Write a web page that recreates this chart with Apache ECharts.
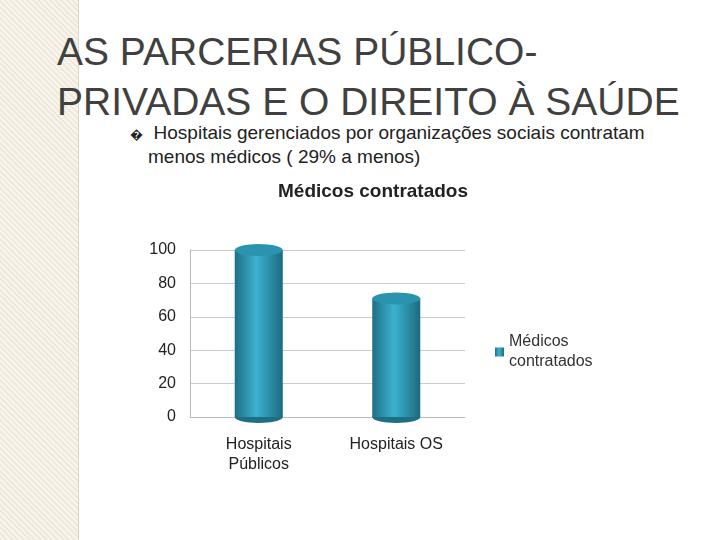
<!DOCTYPE html>
<html><head><meta charset="utf-8">
<script src="https://cdn.jsdelivr.net/npm/echarts@6/dist/echarts.min.js"></script>
<style>
body{margin:0;width:720px;height:540px;background:#fff;position:relative;overflow:hidden;font-family:"Liberation Sans",Arial,sans-serif}
.strip{position:absolute;left:0;top:0;width:78px;height:540px;background:repeating-linear-gradient(45deg,#efe9dc 0 2px,#f8f5ee 2px 4px);border-right:1px solid #ddd6c6}
.h{position:absolute;left:57px;top:27px;font-size:39px;line-height:50px;color:#404040;white-space:nowrap}
.b{position:absolute;left:130px;top:122px;font-size:19px;line-height:22px;color:#222;white-space:nowrap}
#c{position:absolute;left:0;top:0;width:720px;height:540px}
</style></head><body>
<div class="strip"></div>
<div class="h">AS PARCERIAS PÚBLICO-<br>PRIVADAS E O DIREITO À SAÚDE</div>
<div class="b"><span style="font-size:13px">&#xFFFD;</span>&nbsp; Hospitais gerenciados por organizações sociais contratam<br><span style="padding-left:18px">menos médicos ( 29% a menos)</span></div>
<div id="c"></div>
<script>
var categories = ['Hospitais\nPúblicos', 'Hospitais OS'];
var medicos = [100, 71];
var yTicks = [0, 20, 40, 60, 80, 100];

var chart = echarts.init(document.getElementById('c'));
var grad = new echarts.graphic.LinearGradient(0, 0, 1, 0, [
    {offset: 0, color: '#1d6f86'}, {offset: 0.45, color: '#3cb2cf'}, {offset: 1, color: '#1b6a80'}
]);
chart.setOption({
    title: {text: 'Médicos contratados', left: 368, top: 177, textAlign: 'center',
        textStyle: {fontSize: 19, fontWeight: 'bold', color: '#222', fontFamily: 'Liberation Sans'}},
    legend: {data: ['Médicos\ncontratados'], orient: 'vertical', left: 490, top: 327, itemWidth: 9, itemHeight: 9,
        icon: 'rect', textStyle: {fontSize: 16, color: '#333', lineHeight: 20, fontFamily: 'Liberation Sans'}},
    grid: {left: 190, width: 275, top: 250, bottom: 123},
    xAxis: {type: 'category', data: categories, axisTick: {show: false},
        axisLine: {lineStyle: {color: '#bbb'}},
        axisLabel: {fontSize: 16, color: '#222', margin: 18, lineHeight: 20}},
    yAxis: {type: 'value', min: 0, max: 100, interval: 20,
        axisLine: {show: true, lineStyle: {color: '#bbb'}},
        splitLine: {lineStyle: {color: '#ccc'}},
        axisLabel: {fontSize: 16, color: '#222', margin: 14}},
    series: [
        {name: 'Médicos\ncontratados', type: 'bar', data: medicos, barWidth: 48, z: 2,
            itemStyle: {color: grad}},
        {name: 'top', type: 'pictorialBar', data: medicos, symbol: 'circle', symbolSize: [48, 12],
            symbolPosition: 'end', symbolOffset: [0, -6], z: 3,
            itemStyle: {color: '#2a93ad'}},
        {name: 'bottom', type: 'pictorialBar', data: medicos, symbol: 'circle', symbolSize: [48, 12],
            symbolOffset: [0, 6], z: 1, itemStyle: {color: '#1d6f86'}}
    ],
    color: ['#2c96b1']
});
</script>
</body></html>
